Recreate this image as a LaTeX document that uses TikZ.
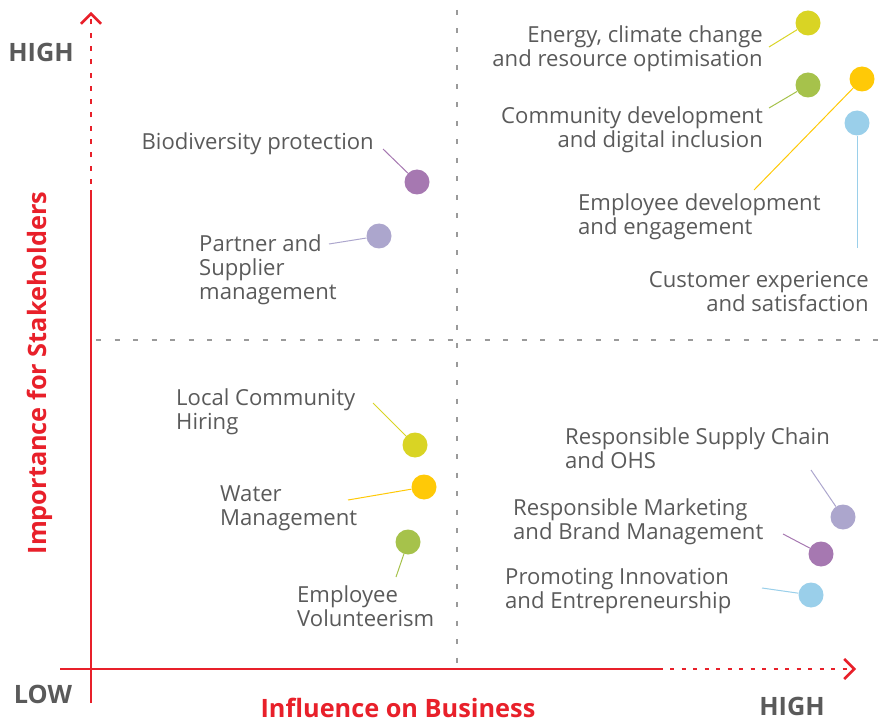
\documentclass[tikz,border=0pt]{standalone}
\usepackage{fontspec}
\setmainfont{Open Sans}
\usetikzlibrary{arrows.meta}
\definecolor{axisred}{HTML}{E8202A}
\definecolor{txtgray}{HTML}{5A5A5A}
\definecolor{gridgray}{HTML}{9A9A9A}
\definecolor{lime}{HTML}{D9D424}
\definecolor{leaf}{HTML}{A6C24B}
\definecolor{sun}{HTML}{FFC907}
\definecolor{sky}{HTML}{9ACFEA}
\definecolor{plum}{HTML}{A678B1}
\definecolor{lilac}{HTML}{ACA6CD}
\tikzset{
  issue/.style={circle, fill=#1, inner sep=0pt, minimum size=25pt},
  lead/.style={draw=#1, line width=1pt},
  lbl/.style={text=txtgray, inner sep=0pt, yshift=-2pt, font=\fontsize{22.1}{24}\selectfont},
  axlbl/.style={inner sep=0pt, font=\fontsize{25.3}{28}\selectfont\bfseries},
  axis/.style={draw=axisred, line width=2.5pt},
  grid/.style={draw=gridgray, line width=1.2pt, dash pattern=on 5pt off 13.5pt}
}
\begin{document}
\begin{tikzpicture}[x=1pt, y=-1pt, >={Straight Barb[length=10pt,width=20pt]}]
\useasboundingbox (0,0) rectangle (881,722);
\draw[grid] (96,340)--(881,340);
\draw[grid] (457,10)--(457,670);
\draw[axis] (91,703)--(91,190);
\draw[axis, dash pattern=on 5pt off 8.3pt, ->] (91,184)--(91,12);
\draw[axis] (60,669)--(663,669);
\draw[axis, dash pattern=on 4pt off 7.5pt, ->] (670,669)--(856,669);
\node[axlbl, text=txtgray] (yhigh) at (41,52) {HIGH};
\node[axlbl, text=txtgray] (xlow) at (43,694) {LOW};
\node[axlbl, text=txtgray] (xhigh) at (792,706) {HIGH};
\node[axlbl, text=axisred] (xname) at (398,708) {Influence on Business};
\node[axlbl, text=axisred, rotate=90] (yname) at (40,373) {Importance for Stakeholders};
% high / high
\node[issue=lime] (energy) at (808,23) {};
\node[lbl, anchor=east, align=right] (energyT) at (763,47) {Energy, climate change\\and resource optimisation};
\coordinate (energyC) at (769,47);
\draw[lead=lime] (energyC)--(energy);
\node[issue=leaf] (community) at (808,85) {};
\node[lbl, anchor=east, align=right] (communityT) at (763,128) {Community development\\and digital inclusion};
\coordinate (communityC) at (769,108);
\draw[lead=leaf] (communityC)--(community);
\node[issue=sun] (empdev) at (862,79) {};
\node[lbl, anchor=west, align=left] (empdevT) at (578,215) {Employee development\\and engagement};
\coordinate (empdevC) at (754,190);
\draw[lead=sun] (empdevC)--(empdev);
\node[issue=sky] (customer) at (857,123) {};
\node[lbl, anchor=east, align=right] (customerT) at (869,289) {Customer experience\\and satisfaction};
\coordinate (customerC) at (857,248);
\draw[lead=sky] (customerC)--(customer);
% high / low
\node[issue=plum] (biodiv) at (417,182) {};
\node[lbl, anchor=east] (biodivT) at (374,142) {Biodiversity protection};
\coordinate (biodivC) at (383,149);
\draw[lead=plum] (biodivC)--(biodiv);
\node[issue=lilac] (partner) at (379,236) {};
\node[lbl, anchor=west, align=left] (partnerT) at (199,268) {Partner and\\Supplier\\management};
\coordinate (partnerC) at (329,244);
\draw[lead=lilac] (partnerC)--(partner);
% low / low
\node[issue=lime] (hiring) at (415,445) {};
\node[lbl, anchor=west, align=left] (hiringT) at (176,410) {Local Community\\Hiring};
\coordinate (hiringC) at (373,403);
\draw[lead=lime] (hiringC)--(hiring);
\node[issue=sun] (water) at (424,487) {};
\node[lbl, anchor=west, align=left] (waterT) at (220,506) {Water\\Management};
\coordinate (waterC) at (348,500);
\draw[lead=sun] (waterC)--(water);
\node[issue=leaf] (volunteer) at (408,542) {};
\node[lbl, anchor=west, align=left] (volunteerT) at (297,604) {Employee\\Volunteerism};
\coordinate (volunteerC) at (396,577);
\draw[lead=leaf] (volunteerC)--(volunteer);
% low / high
\node[issue=lilac] (supply) at (843,517) {};
\node[lbl, anchor=west, align=left] (supplyT) at (565,446) {Responsible Supply Chain\\and OHS};
\coordinate (supplyC) at (811,470);
\draw[lead=lilac] (supplyC)--(supply);
\node[issue=plum] (marketing) at (821,554) {};
\node[lbl, anchor=west, align=left] (marketingT) at (513,520) {Responsible Marketing\\and Brand Management};
\coordinate (marketingC) at (783,534);
\draw[lead=plum] (marketingC)--(marketing);
\node[issue=sky] (innovation) at (811,595) {};
\node[lbl, anchor=west, align=left] (innovationT) at (505,589) {Promoting Innovation\\and Entrepreneurship};
\coordinate (innovationC) at (762,588);
\draw[lead=sky] (innovationC)--(innovation);
\end{tikzpicture}
\end{document}
